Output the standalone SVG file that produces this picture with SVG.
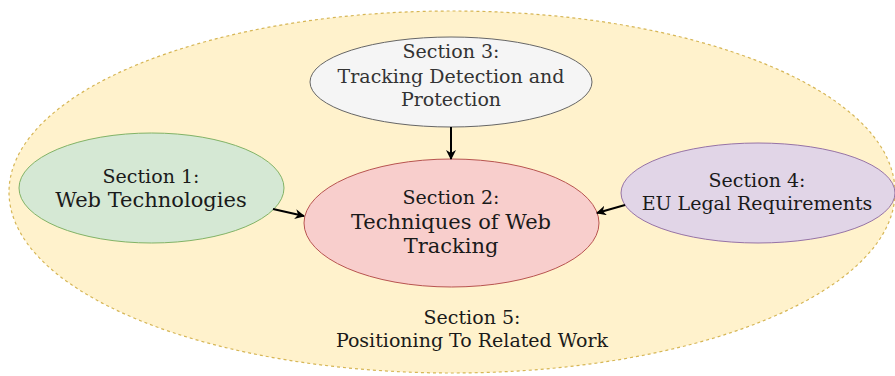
<svg xmlns="http://www.w3.org/2000/svg" width="895" height="376" viewBox="0 0 895 376">
<style>
text{font-family:"DejaVu Serif",serif;text-anchor:middle;fill:#1a1a1a}
.s{font-size:19px}
.b{font-size:21px}
.g{fill:#333333}
.edge{stroke:#000;stroke-width:2;fill:none;marker-end:url(#ah)}
</style>
<defs>
<marker id="ah" viewBox="0 0 10 10" refX="9" refY="5" markerWidth="10" markerHeight="10" orient="auto" markerUnits="userSpaceOnUse">
<path d="M0,0 L10,5 L0,10 L3,5 Z" fill="#000"/>
</marker>
</defs>
<rect width="895" height="376" fill="#fff"/>
<g id="section5">
<ellipse cx="452" cy="192" rx="443" ry="181" fill="#fff2cc" stroke="#d6b656" stroke-width="1.2" stroke-dasharray="3 3"/>
<text class="s" x="472" y="324">Section 5:</text>
<text class="s" x="472" y="347">Positioning To Related Work</text>
</g>
<g id="section3">
<ellipse cx="451" cy="82" rx="141" ry="45" fill="#f5f5f5" stroke="#666666"/>
<text class="s g" x="451" y="58">Section 3:</text>
<text class="s g" x="451" y="83">Tracking Detection and</text>
<text class="s g" x="451" y="106">Protection</text>
</g>
<g id="section1">
<ellipse cx="151.5" cy="188" rx="132.5" ry="55" fill="#d5e8d4" stroke="#82b366"/>
<text class="s" x="151" y="183">Section 1:</text>
<text class="b" x="151" y="207">Web Technologies</text>
</g>
<g id="section2">
<ellipse cx="451.5" cy="223" rx="147.5" ry="64" fill="#f8cecc" stroke="#b85450"/>
<text class="s" x="451" y="204">Section 2:</text>
<text class="b" x="451" y="229">Techniques of Web</text>
<text class="b" x="451" y="253">Tracking</text>
</g>
<g id="section4">
<ellipse cx="758" cy="193" rx="137" ry="50" fill="#e1d5e7" stroke="#9673a6"/>
<text class="s" x="757" y="187">Section 4:</text>
<text class="s" x="757" y="210">EU Legal Requirements</text>
</g>
<g id="connectors">
<path class="edge" d="M451,127 L451,159"/>
<path class="edge" d="M273,209 L304,216"/>
<path class="edge" d="M625,205 L597,213"/>
</g>
</svg>
